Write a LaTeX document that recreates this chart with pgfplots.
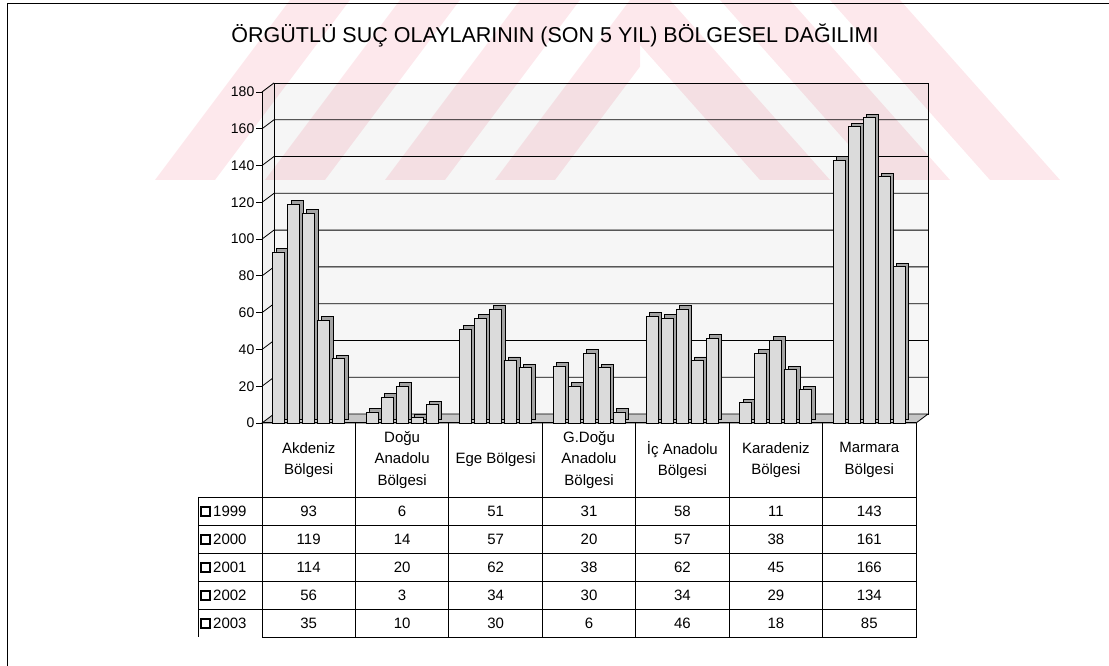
\documentclass[border=0pt]{standalone}
\usepackage{fontspec}
\setmainfont{Liberation Sans}
\usepackage{pgfplots}
\pgfplotsset{compat=1.18}
\usetikzlibrary{shadows}
\definecolor{wm}{RGB}{253,232,236}
\begin{document}
\begin{tikzpicture}[x=1pt,y=1pt]
\useasboundingbox (0,0) rectangle (1109,666);
% faint watermark stripes (y = 666 - py)
\begin{scope}
\clip (150,486) rectangle (640,666);
\foreach \c in {290,400,520,630} {
  \fill[wm] (\c,666) -- ({\c+60},666) -- ({\c+60-135},486) -- ({\c-135},486) -- cycle;
}
\end{scope}
\begin{scope}
\clip (640,486) rectangle (1109,666);
\foreach \c in {600,720,830} {
  \fill[wm] (\c,666) -- ({\c+70},666) -- ({\c+70+160},486) -- ({\c+160},486) -- cycle;
}
\end{scope}
% frame
\draw[line width=0.8pt] (7,0) -- (7,663) -- (1109,663);
% title
\node[font=\fontsize{21.5}{22}\selectfont] at (555,631) {ÖRGÜTLÜ SUÇ OLAYLARININ (SON 5 YIL) BÖLGESEL DAĞILIMI};
% walls
\fill[black,opacity=0.035] (274,252) rectangle (928,583);
\fill[black,opacity=0.05] (262,243) -- (274,252) -- (274,583) -- (262,574) -- cycle;
\draw[line width=0.9pt] (274,252) rectangle (928,583);
\draw[line width=0.9pt] (262,574) -- (274,583);
\foreach \v in {20,40,...,160} {
  \draw[line width=0.8pt] (262,{243+\v*1.83889}) -- ++(12,9) -- (928,{252+\v*1.83889});
}
% floor
\fill[gray!45,draw=black,line width=0.8pt] (262,243) -- (916,243) -- (928,252) -- (274,252) -- cycle;
\begin{axis}[
  at={(262pt,243pt)}, anchor=south west,
  scale only axis, width=654pt, height=331pt,
  xmin=-0.5, xmax=6.5, ymin=0, ymax=180,
  ytick={0,20,...,180}, xtick=\empty,
  axis x line*=bottom, axis y line*=left,
  axis line style={line width=1pt},
  tick align=outside, major tick length=6pt,
  ytick style={line width=0.8pt,black},
  yticklabel style={font=\fontsize{14}{14}\selectfont, inner sep=1.5pt},
  /pgf/number format/assume math mode=true,
  ybar=3pt, bar width=12pt,
  clip=false,
  bar3d/.style={draw=black, line width=0.9pt, fill=gray!28,
     copy shadow={shadow xshift=3.5pt, shadow yshift=3.5pt, fill=gray!72, draw=black, line width=0.9pt}},
]
\addplot[bar3d] coordinates {(0,93) (1,6) (2,51) (3,31) (4,58) (5,11) (6,143)};
\addplot[bar3d] coordinates {(0,119) (1,14) (2,57) (3,20) (4,57) (5,38) (6,161)};
\addplot[bar3d] coordinates {(0,114) (1,20) (2,62) (3,38) (4,62) (5,45) (6,166)};
\addplot[bar3d] coordinates {(0,56) (1,3) (2,34) (3,30) (4,34) (5,29) (6,134)};
\addplot[bar3d] coordinates {(0,35) (1,10) (2,30) (3,6) (4,46) (5,18) (6,85)};
\end{axis}
% data table
\begin{scope}[line width=0.8pt]
\draw (262,243) -- (262,29) -- (916,29) -- (916,243);
\draw (198,169) -- (916,169);
\draw (198,169) -- (198,29);
\foreach \yy in {141,113,85,57} { \draw (198,\yy) -- (916,\yy); }
\foreach \k in {1,...,6} { \draw ({262+\k*93.43},243) -- ({262+\k*93.43},29); }
\end{scope}
\begin{scope}[every node/.style={font=\fontsize{15}{21.5}\selectfont, align=center}]
\node at (308.7,206) {Akdeniz\\Bölgesi};
\node at (402.1,206) {Doğu\\Anadolu\\Bölgesi};
\node at (495.6,206) {Ege Bölgesi};
\node at (589.0,206) {G.Doğu\\Anadolu\\Bölgesi};
\node at (682.4,206) {İç Anadolu\\Bölgesi};
\node at (775.9,206) {Karadeniz\\Bölgesi};
\node at (869.3,206) {Marmara\\Bölgesi};
\end{scope}
\begin{scope}[every node/.style={font=\fontsize{15}{15}\selectfont}]
\foreach \yr/\yy/\a/\b/\c/\d/\e/\f/\g in {
  1999/155/93/6/51/31/58/11/143,
  2000/127/119/14/57/20/57/38/161,
  2001/99/114/20/62/38/62/45/166,
  2002/71/56/3/34/30/34/29/134,
  2003/43/35/10/30/6/46/18/85} {
  \draw[line width=1.5pt,fill=white] (201,\yy-5) rectangle (210,\yy+4);
  \node[anchor=west,inner sep=0pt] at (213,\yy) {\yr};
  \node at (308.7,\yy) {\a};
  \node at (402.1,\yy) {\b};
  \node at (495.6,\yy) {\c};
  \node at (589.0,\yy) {\d};
  \node at (682.4,\yy) {\e};
  \node at (775.9,\yy) {\f};
  \node at (869.3,\yy) {\g};
}
\end{scope}
\end{tikzpicture}
\end{document}
